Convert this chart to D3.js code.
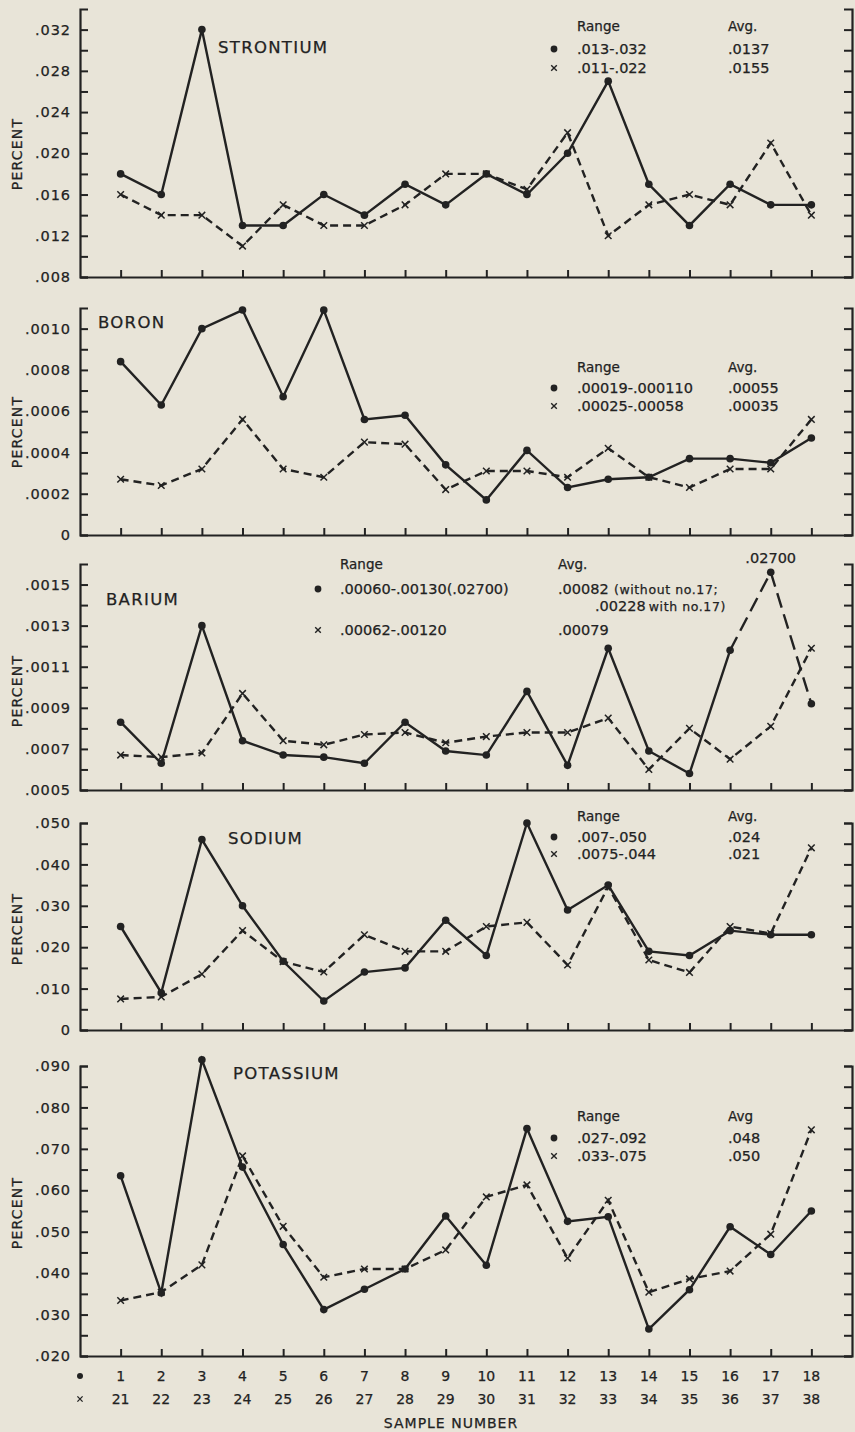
<!DOCTYPE html>
<html>
<head>
<meta charset="utf-8">
<script src="https://cdn.jsdelivr.net/npm/d3@7"></script>
<style>
  body { margin: 0; background: #e8e4d8; }
  svg { display: block; font-family: "DejaVu Sans", sans-serif; }
  text { fill: #222; stroke: #222; stroke-width: 0.25; }
</style>
</head>
<body>
<svg width="855" height="1432"></svg>
<script>
// sample numbers: dots are 1-18, crosses are 21-38
const samplesDot = d3.range(1, 19);
const samplesCross = d3.range(21, 39);

const strontiumDot   = [.018, .016, .032, .013, .013, .016, .014, .017, .015, .018, .016, .020, .027, .017, .013, .017, .015, .015];
const strontiumCross = [.016, .014, .014, .011, .015, .013, .013, .015, .018, .018, .0165, .022, .012, .015, .016, .015, .021, .014];
const strontiumRange = [".013-.032", ".011-.022"];
const strontiumAvg   = [".0137", ".0155"];

const boronDot   = [.00084, .00063, .00100, .00109, .00067, .00109, .00056, .00058, .00034, .00017, .00041, .00023, .00027, .00028, .00037, .00037, .00035, .00047];
const boronCross = [.00027, .00024, .00032, .00056, .00032, .00028, .00045, .00044, .00022, .00031, .00031, .00028, .00042, .00028, .00023, .00032, .00032, .00056];
const boronRange = [".00019-.000110", ".00025-.00058"];
const boronAvg   = [".00055", ".00035"];

// no.17 of barium is .02700, drawn off scale at the top
const bariumDot   = [.00083, .00063, .00130, .00074, .00067, .00066, .00063, .00083, .00069, .00067, .00098, .00062, .00119, .00069, .00058, .00118, .00156, .00092];
const bariumCross = [.00067, .00066, .00068, .00097, .00074, .00072, .00077, .00078, .00073, .00076, .00078, .00078, .00085, .00060, .00080, .00065, .00081, .00119];
const bariumRange = [".00060-.00130(.02700)", ".00062-.00120"];
const bariumAvg   = [".00082", ".00079"];

const sodiumDot   = [.025, .009, .046, .030, .0166, .007, .014, .015, .0265, .018, .050, .029, .035, .019, .018, .024, .023, .023];
const sodiumCross = [.0075, .008, .0135, .024, .0165, .014, .023, .019, .019, .025, .026, .0157, .0346, .0169, .0139, .025, .0233, .044];
const sodiumRange = [".007-.050", ".0075-.044"];
const sodiumAvg   = [".024", ".021"];

const potassiumDot   = [.0635, .0352, .0915, .0656, .0469, .0312, .0361, .0410, .0538, .0419, .0749, .0525, .0536, .0265, .0360, .0512, .0445, .0550];
const potassiumCross = [.0334, .0354, .0420, .0683, .0513, .0390, .0410, .0410, .0456, .0584, .0613, .0436, .0576, .0354, .0386, .0405, .0494, .0746];
const potassiumRange = [".027-.092", ".033-.075"];
const potassiumAvg   = [".048", ".050"];

const svg = d3.select("svg");
const ink = "#222";

const x = d3.scaleLinear().domain([0, 19]).range([80, 852]);

const panels = [
  { title: "STRONTIUM", dot: strontiumDot, cross: strontiumCross, range: strontiumRange, avg: strontiumAvg, avgHead: "Avg.",
    top: 9, bottom: 277, lo: .008, hi: .034, tickHi: .032, step: .002, digits: 3,
    titleX: 218, titleY: 53, percentY: 154,
    legend: { markX: 554, rangeX: 577, avgX: 728, headY: 31, rows: [54, 73] } },
  { title: "BORON", dot: boronDot, cross: boronCross, range: boronRange, avg: boronAvg, avgHead: "Avg.",
    top: 308, bottom: 535, lo: 0, hi: .0011, tickHi: .0010, step: .0001, digits: 4,
    titleX: 98, titleY: 328, percentY: 432,
    legend: { markX: 554, rangeX: 577, avgX: 728, headY: 372, rows: [393, 411] } },
  { title: "BARIUM", dot: bariumDot, cross: bariumCross, range: bariumRange, avg: bariumAvg, avgHead: "Avg.",
    top: 564, bottom: 790, lo: .0005, hi: .0016, tickHi: .0015, step: .0001, digits: 4,
    titleX: 106, titleY: 605, percentY: 691, breakAt: 15,
    legend: { markX: 318, rangeX: 340, avgX: 558, headY: 569, rows: [594, 635] } },
  { title: "SODIUM", dot: sodiumDot, cross: sodiumCross, range: sodiumRange, avg: sodiumAvg, avgHead: "Avg.",
    top: 823, bottom: 1030, lo: 0, hi: .050, tickHi: .050, step: .005, digits: 3,
    titleX: 228, titleY: 844, percentY: 929,
    legend: { markX: 554, rangeX: 577, avgX: 728, headY: 821, rows: [842, 859] } },
  { title: "POTASSIUM", dot: potassiumDot, cross: potassiumCross, range: potassiumRange, avg: potassiumAvg, avgHead: "Avg",
    top: 1066, bottom: 1356, lo: .020, hi: .090, tickHi: .090, step: .005, digits: 3,
    titleX: 233, titleY: 1079, percentY: 1213,
    legend: { markX: 554, rangeX: 577, avgX: 728, headY: 1121, rows: [1143, 1161] } }
];

function crossPath(cx, cy, s) {
  return `M${cx - s},${cy - s}L${cx + s},${cy + s}M${cx - s},${cy + s}L${cx + s},${cy - s}`;
}

panels.forEach(p => {
  const y = d3.scaleLinear().domain([p.lo, p.hi]).range([p.bottom, p.top]);
  const n = Math.round((p.tickHi - p.lo) / p.step);
  const ticks = d3.range(n + 1).map(i => +(p.lo + i * p.step).toFixed(6));
  const fmt = (v, i) => i % 2 ? "" : (v === 0 ? "0" : d3.format("." + p.digits + "f")(v).replace(/^0/, ""));

  const g = svg.append("g");

  // left axis, ticks inward, bracket at top
  const left = g.append("g").attr("transform", `translate(${x(0)},0)`)
    .call(d3.axisLeft(y).tickValues(ticks).tickFormat(fmt).tickSizeInner(-8).tickSizeOuter(-8).tickPadding(9));
  // right axis, no labels
  const right = g.append("g").attr("transform", `translate(${x(19)},0)`)
    .call(d3.axisRight(y).tickValues(ticks).tickFormat("").tickSizeInner(-8).tickSizeOuter(-8));
  // bottom axis, ticks upward
  const bottom = g.append("g").attr("transform", `translate(0,${p.bottom})`)
    .call(d3.axisBottom(x).tickValues(samplesDot).tickFormat("").tickSizeInner(-7).tickSizeOuter(0));

  [left, right, bottom].forEach(a => {
    a.select(".domain").attr("stroke", ink).attr("stroke-width", 2.2).attr("fill", "none");
    a.selectAll(".tick line").attr("stroke", ink).attr("stroke-width", 2);
  });
  left.selectAll(".tick text").attr("font-size", 14.5).attr("letter-spacing", 0.9)
    .attr("font-family", "DejaVu Sans").attr("fill", ink);

  g.append("text")
    .attr("transform", `translate(22,${p.percentY}) rotate(-90)`)
    .attr("text-anchor", "middle").attr("font-size", 14).attr("letter-spacing", 1.2)
    .text("PERCENT");

  g.append("text")
    .attr("x", p.titleX).attr("y", p.titleY)
    .attr("font-size", 16.5).attr("letter-spacing", 1.3)
    .text(p.title);

  // cross series, dashed
  const lineC = d3.line().x((d, i) => x(samplesDot[i])).y(d => y(d));
  g.append("path").datum(p.cross)
    .attr("d", lineC).attr("fill", "none").attr("stroke", ink)
    .attr("stroke-width", 2.4).attr("stroke-dasharray", "8,5");

  g.append("g").selectAll("path")
    .data(p.cross)
    .enter().append("path")
    .attr("d", (d, i) => crossPath(x(samplesDot[i]), y(d), 3.3))
    .attr("stroke", ink).attr("stroke-width", 1.5);

  // dot series, solid (barium ends in long dashes through no.17)
  const lineD = d3.line().x(d => x(samplesDot[d.i])).y(d => y(d.v));
  const pts = p.dot.map((v, i) => ({ v, i }));
  const solidPts = p.breakAt ? pts.slice(0, p.breakAt + 1) : pts;
  g.append("path").datum(solidPts)
    .attr("d", lineD).attr("fill", "none").attr("stroke", ink).attr("stroke-width", 2.4);
  if (p.breakAt) {
    g.append("path").datum(pts.slice(p.breakAt))
      .attr("d", lineD).attr("fill", "none").attr("stroke", ink)
      .attr("stroke-width", 2.4).attr("stroke-dasharray", "15,7");
  }

  g.append("g").selectAll("circle")
    .data(pts)
    .enter().append("circle")
    .attr("cx", d => x(samplesDot[d.i]))
    .attr("cy", d => y(d.v))
    .attr("r", 3.8)
    .attr("fill", ink);

  // legend
  const L = p.legend;
  g.append("text").attr("x", L.rangeX).attr("y", L.headY).attr("font-size", 13.5).text("Range");
  g.append("text").attr("x", L.avgX).attr("y", L.headY).attr("font-size", 13.5).text(p.avgHead);
  g.append("circle").attr("cx", L.markX).attr("cy", L.rows[0] - 5).attr("r", 3.4).attr("fill", ink);
  g.append("path").attr("d", crossPath(L.markX, L.rows[1] - 5, 2.8)).attr("stroke", ink).attr("stroke-width", 1.4);
  p.range.forEach((t, i) => {
    g.append("text").attr("x", L.rangeX).attr("y", L.rows[i]).attr("font-size", 14.5).text(t);
    g.append("text").attr("x", L.avgX).attr("y", L.rows[i]).attr("font-size", 14.5).text(p.avg[i]);
  });

  if (p.breakAt) {
    g.append("text").attr("x", L.avgX + 56).attr("y", L.rows[0])
      .attr("font-size", 12.5).attr("letter-spacing", 0.6).text("(without  no.17;");
    g.append("text").attr("x", 595).attr("y", 611)
      .attr("font-size", 14.5).text(".00228")
      .append("tspan").attr("font-size", 12.5).attr("dx", 3).attr("letter-spacing", 0.6).text("with  no.17)");
    g.append("text").attr("x", x(samplesDot[16])).attr("y", 563)
      .attr("text-anchor", "middle").attr("font-size", 14.5).text(".02700");
  }
});

// sample number rows under the last panel
const axisRows = svg.append("g");
axisRows.append("circle").attr("cx", x(0)).attr("cy", 1376).attr("r", 3).attr("fill", ink);
axisRows.append("path").attr("d", crossPath(x(0), 1399, 2.6)).attr("stroke", ink).attr("stroke-width", 1.3);
axisRows.selectAll("text.a")
  .data(samplesDot)
  .enter().append("text").attr("class", "a")
  .attr("x", d => x(d)).attr("y", 1381)
  .attr("text-anchor", "middle").attr("font-size", 14)
  .text(d => d);
axisRows.selectAll("text.b")
  .data(samplesCross)
  .enter().append("text").attr("class", "b")
  .attr("x", (d, i) => x(samplesDot[i])).attr("y", 1404)
  .attr("text-anchor", "middle").attr("font-size", 14)
  .text(d => d);
axisRows.append("text")
  .attr("x", 451).attr("y", 1428)
  .attr("text-anchor", "middle").attr("font-size", 14).attr("letter-spacing", 1)
  .text("SAMPLE NUMBER");
</script>
</body>
</html>
